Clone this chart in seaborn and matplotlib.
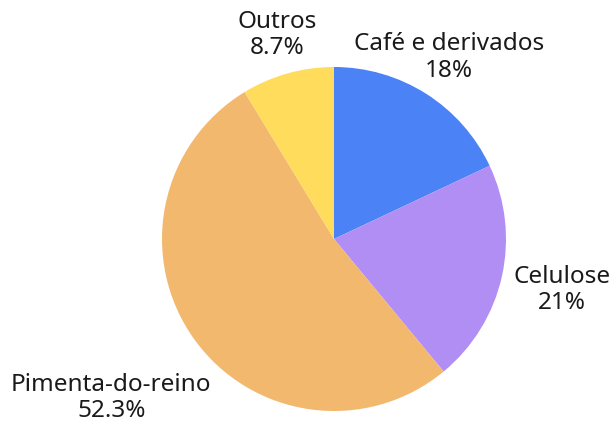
import numpy as np
import matplotlib
matplotlib.use("Agg")
import matplotlib.pyplot as plt
import seaborn as sns

# dados do gráfico
categorias = ["Café e derivados", "Celulose", "Pimenta-do-reino", "Outros"]
percentuais = [18.0, 21.0, 52.3, 8.7]
rotulos_pct = ["18%", "21%", "52.3%", "8.7%"]
cores = ["#4B82F6", "#B08EF4", "#F2B86E", "#FFDC5B"]

# distância dos rótulos ao centro (em raios)
dist_rotulos = [1.25, 1.36, 1.59, 1.23]

sns.set_theme(style="white")
plt.rcParams['font.family'] = ['Noto Sans', 'DejaVu Sans']

fig = plt.figure(figsize=(6.14, 4.23), dpi=100)
ax = fig.add_axes([0, 0, 1, 1])

wedges, _ = ax.pie(
    percentuais,
    colors=cores,
    startangle=90,
    counterclock=False,
    radius=1.0,
    wedgeprops={'linewidth': 0, 'edgecolor': 'none', 'antialiased': True},
)

# rótulos no ângulo médio de cada fatia
for w, cat, pct, d in zip(wedges, categorias, rotulos_pct, dist_rotulos):
    ang = np.deg2rad((w.theta1 + w.theta2) / 2)
    x, y = d * np.cos(ang), d * np.sin(ang)
    ax.text(x, y, f"{cat}\n{pct}", ha='center', va='center',
            fontsize=17.5, color='#1a1a1a', linespacing=1.12)

r_px = 172.0
ax.set_xlim(-334 / r_px, (614 - 334) / r_px)
ax.set_ylim((239 - 423) / r_px, 239 / r_px)
ax.set_aspect('equal')
ax.axis('off')

fig.savefig("out.png", dpi=100)
plt.close(fig)
